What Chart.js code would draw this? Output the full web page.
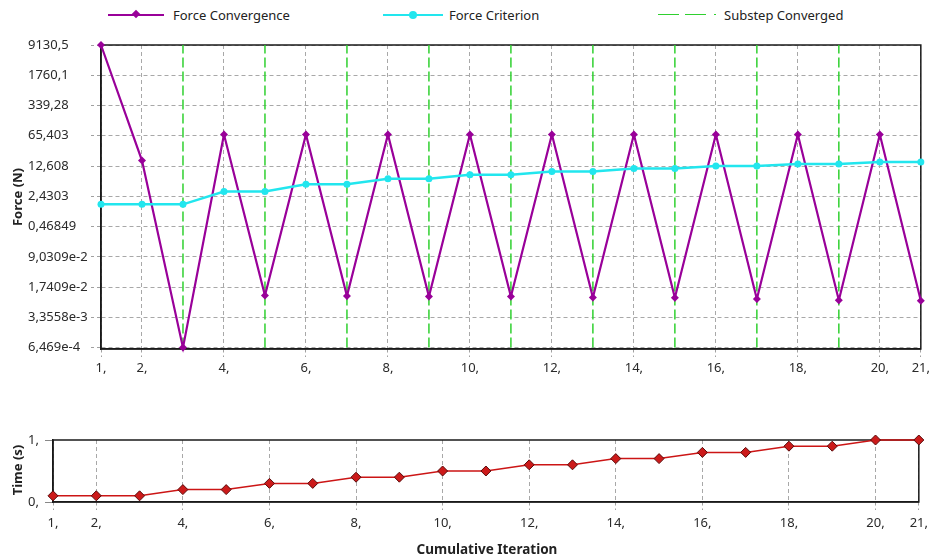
<!DOCTYPE html>
<html>
<head>
<meta charset="utf-8">
<title>Force Convergence</title>
<script src="https://cdn.jsdelivr.net/npm/chart.js@4.4.0/dist/chart.umd.min.js"></script>
<style>
body { margin: 0; background: #fff; width: 933px; height: 560px; position: relative; overflow: hidden; font-family: "Noto Sans", sans-serif; color: #222; }
canvas { position: absolute; left: 0; }
#forceChart { top: 0; }
#timeChart { top: 400px; }
.legtext { position: absolute; top: 6px; font-size: 13px; line-height: 18px; white-space: nowrap; }
.swline { position: absolute; height: 2px; top: 14px; }
.axtitle { position: absolute; font-size: 13px; font-weight: bold; white-space: nowrap; transform: translate(-50%, -50%); }
.rot { transform: translate(-50%, -50%) rotate(-90deg); }
</style>
</head>
<body>
<!-- legend -->
<div class="swline" style="left:108px;width:56px;background:#990099"></div>
<div style="position:absolute;left:133px;top:11px;width:6px;height:6px;background:#990099;transform:rotate(45deg)"></div>
<div class="legtext" style="left:173px">Force Convergence</div>
<div class="swline" style="left:383px;width:60px;background:#22e6ee"></div>
<div style="position:absolute;left:409px;top:11px;width:8px;height:8px;border-radius:50%;background:#22e6ee"></div>
<div class="legtext" style="left:449px">Force Criterion</div>
<div class="swline" style="left:658px;width:21px;height:1px;background:#2fd02f"></div>
<div class="swline" style="left:685px;width:21px;height:1px;background:#2fd02f"></div>
<div class="swline" style="left:714px;width:2px;height:1px;background:#2fd02f"></div>
<div class="legtext" style="left:724px">Substep Converged</div>

<canvas id="forceChart" width="933" height="390"></canvas>
<canvas id="timeChart" width="933" height="160"></canvas>

<div class="axtitle rot" style="left:17px;top:197px">Force (N)</div>
<div class="axtitle rot" style="left:17px;top:470px">Time (s)</div>
<div class="axtitle" style="left:487px;top:549px;font-size:13.5px">Cumulative Iteration</div>

<script>
// values
const iterations = [1,2,3,4,5,6,7,8,9,10,11,12,13,14,15,16,17,18,19,20,21];
const forceConvergence = [9130.5, 17, 0.0006469, 70, 0.0110, 70, 0.0107, 70, 0.0104, 70, 0.0104,
                          70, 0.0099, 70, 0.0097, 70, 0.0091, 70, 0.0085, 70, 0.0083];
const forceCriterion = [1.57, 1.57, 1.57, 3.14, 3.14, 4.71, 4.71, 6.28, 6.28, 7.85, 7.85,
                        9.42, 9.42, 11.0, 11.0, 12.56, 12.56, 14.1, 14.1, 15.7, 15.7];
const substepIterations = [3,5,7,9,11,13,15,17,19];
const timeValues = [0.1,0.1,0.1,0.2,0.2,0.3,0.3,0.4,0.4,0.5,0.5,0.6,0.6,0.7,0.7,0.8,0.8,0.9,0.9,1,1];

const xTicks = [1,2,4,6,8,10,12,14,16,18,20,21];
const forceTickValues = [6.469e-4, 3.3558e-3, 1.7409e-2, 9.0309e-2, 0.46849, 2.4303, 12.608, 65.403, 339.28, 1760.1, 9130.5];
const forceTickLabels = ['6,469e-4','3,3558e-3','1,7409e-2','9,0309e-2','0,46849','2,4303','12,608','65,403','339,28','1760,1','9130,5'];
const timeTicks = [0, 1];

Chart.defaults.font.family = 'Noto Sans';
Chart.defaults.font.size = 13;
Chart.defaults.color = '#2a2a2a';

// box round the plot area
const frameBox = {
  id: 'frameBox',
  beforeDatasetsDraw(chart) {
    const { ctx, chartArea: a } = chart;
    ctx.save();
    ctx.strokeStyle = '#1a1a1a';
    ctx.lineWidth = 1.5;
    ctx.strokeRect(a.left, a.top, a.right - a.left, a.bottom - a.top);
    ctx.restore();
  }
};

function xScale(h, pad) {
  return {
    type: 'linear', min: 1, max: 21,
    afterBuildTicks: s => { s.ticks = xTicks.map(v => ({ value: v })); },
    afterFit: s => { s.height = h; },
    ticks: { callback: v => v + ',', autoSkip: false, maxRotation: 0, padding: pad },
    grid: { color: '#a8a8a8', tickLength: 8, tickColor: '#a0a0a0', tickBorderDash: [3, 3] },
    border: { display: true, color: '#1a1a1a', width: 1.5, dash: [4, 3] }
  };
}

const yMin = forceTickValues[0];
const yMax = forceTickValues[forceTickValues.length - 1];
const substepData = substepIterations.flatMap(x => [{ x: x, y: yMin }, { x: x, y: yMax }, { x: x, y: null }]);

new Chart(document.getElementById('forceChart'), {
  type: 'line',
  data: {
    datasets: [
      {
        label: 'Force Criterion',
        data: iterations.map((x, i) => ({ x: x, y: forceCriterion[i] })),
        borderColor: '#22e6ee', backgroundColor: '#22e6ee', borderWidth: 2.5,
        pointStyle: 'circle', pointRadius: 3.5, pointBorderWidth: 0,
        order: 1, clip: false
      },
      {
        label: 'Force Convergence',
        data: iterations.map((x, i) => ({ x: x, y: forceConvergence[i] })),
        borderColor: '#990099', backgroundColor: '#990099', borderWidth: 2.2,
        pointStyle: 'rectRot', pointRadius: 4, pointBorderWidth: 0,
        order: 2, clip: false
      },
      {
        label: 'Substep Converged',
        data: substepData,
        borderColor: '#2fd02f', borderWidth: 1.5, borderDash: [10, 4],
        pointRadius: 0, spanGaps: false, order: 3
      }
    ]
  },
  options: {
    responsive: false, animation: false,
    layout: { padding: { left: 28, right: 10, top: 45, bottom: 0 } },
    plugins: { legend: { display: false }, tooltip: { enabled: false } },
    scales: {
      x: xScale(41, 3),
      y: {
        type: 'logarithmic', min: yMin, max: yMax,
        afterBuildTicks: s => { s.ticks = forceTickValues.map(v => ({ value: v })); },
        afterFit: s => { s.width = 73; },
        ticks: { crossAlign: 'far', callback: (v, i) => forceTickLabels[i], autoSkip: false, padding: 4 },
        grid: { color: '#a8a8a8', tickLength: 10, tickColor: '#a0a0a0', tickBorderDash: [3, 3] },
        border: { display: true, color: '#1a1a1a', width: 1.5, dash: [4, 3] }
      }
    }
  },
  plugins: [frameBox]
});

new Chart(document.getElementById('timeChart'), {
  type: 'line',
  data: {
    datasets: [{
      label: 'Time',
      data: iterations.map((x, i) => ({ x: x, y: timeValues[i] })),
      borderColor: '#cc1515', backgroundColor: '#cc1a1a', borderWidth: 1.5,
      pointStyle: 'rectRot', pointRadius: 5, pointBorderColor: '#5a0a0a', pointBorderWidth: 1,
      clip: false
    }]
  },
  options: {
    responsive: false, animation: false,
    layout: { padding: { left: 28, right: 10, top: 40, bottom: 0 } },
    plugins: { legend: { display: false }, tooltip: { enabled: false } },
    scales: {
      x: xScale(58, 5),
      y: {
        type: 'linear', min: 0, max: 1,
        afterBuildTicks: s => { s.ticks = timeTicks.map(v => ({ value: v })); },
        afterFit: s => { s.width = 25; },
        ticks: { crossAlign: 'far', callback: v => v + ',', padding: 2 },
        grid: { drawOnChartArea: false, tickLength: 8, tickColor: '#888' },
        border: { display: true, color: '#1a1a1a', width: 1.5 }
      }
    }
  },
  plugins: [frameBox]
});
</script>
</body>
</html>
